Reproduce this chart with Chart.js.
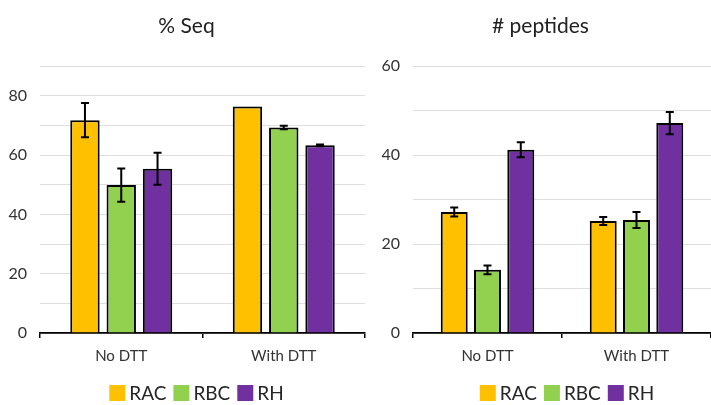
<!DOCTYPE html>
<html>
<head>
<meta charset="utf-8">
<script src="https://cdn.jsdelivr.net/npm/chart.js@4.4.1/dist/chart.umd.min.js"></script>
<style>
    html, body { margin: 0; padding: 0; background: #fff; overflow: hidden; width: 711px; height: 405px; }
    .panel { position: absolute; top: 0; }
</style>
</head>
<body>
<div class="panel" style="left:0px;"><canvas id="seq-chart" width="370" height="405"></canvas></div>
<div class="panel" style="left:370px;"><canvas id="pep-chart" width="341" height="405"></canvas></div>
<script>
// Data
const categories = ['No DTT', 'With DTT'];
const seriesNames = ['RAC', 'RBC', 'RH'];
const seriesColors = ['#FFC000', '#92D050', '#7030A0'];

const seqRAC = [71.8, 76.4];
const seqRBC = [49.9, 69.3];
const seqRH = [55.4, 63.3];
const seqRACErr = [5.8, 0];
const seqRBCErr = [5.6, 0.6];
const seqRHErr = [5.4, 0.3];

const pepRAC = [27.2, 25.2];
const pepRBC = [14.2, 25.4];
const pepRH = [41.2, 47.2];
const pepRACErr = [1.0, 0.9];
const pepRBCErr = [1.0, 1.8];
const pepRHErr = [1.7, 2.5];

const FONT = 'Lato, "Open Sans", sans-serif';

// error bars drawn on top of each bar
const errorBars = {
    id: 'errorBars',
    afterDatasetsDraw(chart) {
        const ctx = chart.ctx;
        const yScale = chart.scales.y;
        chart.data.datasets.forEach((ds, di) => {
            const meta = chart.getDatasetMeta(di);
            meta.data.forEach((bar, i) => {
                const err = ds.errors[i];
                if (!err) return;
                const v = ds.data[i];
                const yTop = yScale.getPixelForValue(v + err);
                const yBot = yScale.getPixelForValue(v - err);
                ctx.save();
                ctx.strokeStyle = '#000';
                ctx.lineWidth = 2;
                ctx.beginPath();
                ctx.moveTo(bar.x, yTop); ctx.lineTo(bar.x, yBot);
                ctx.moveTo(bar.x - 4, yTop); ctx.lineTo(bar.x + 4, yTop);
                ctx.moveTo(bar.x - 4, yBot); ctx.lineTo(bar.x + 4, yBot);
                ctx.stroke();
                ctx.restore();
            });
        });
    }
};

// compact Excel-like legend (tight gap between swatch and text)
const tightLegend = {
    id: 'tightLegend',
    afterDraw(chart, args, opts) {
        const ctx = chart.ctx;
        ctx.save();
        ctx.font = '19px ' + FONT;
        ctx.textBaseline = 'middle';
        const box = 16, gap = 4, spacing = 7;
        const widths = seriesNames.map(n => ctx.measureText(n).width);
        const total = widths.reduce((a, w) => a + box + gap + w, 0) + spacing * (seriesNames.length - 1);
        const area = chart.chartArea;
        let x = (area.left + area.right) / 2 + opts.shift - total / 2;
        const yc = opts.y;
        seriesNames.forEach((name, k) => {
            ctx.fillStyle = seriesColors[k];
            ctx.fillRect(x, yc - box / 2, box, box);
            x += box + gap;
            ctx.fillStyle = '#262626';
            ctx.fillText(name, x, yc + 1);
            x += widths[k] + spacing;
        });
        ctx.restore();
    }
};

function makeChart(id, title, yMax, values, errors, yWidth, padLeft, padRight, legendShift) {
    const ctx = document.getElementById(id).getContext('2d');
    return new Chart(ctx, {
        type: 'bar',
        data: {
            labels: categories,
            datasets: seriesNames.map((name, k) => ({
                label: name,
                data: values[k],
                errors: errors[k],
                backgroundColor: seriesColors[k],
                borderColor: '#000',
                borderWidth: 2,
                categoryPercentage: 0.67,
                barPercentage: 0.81
            }))
        },
        options: {
            responsive: false,
            animation: false,
            layout: { padding: { left: padLeft, right: padRight, top: 0, bottom: 28 } },
            scales: {
                x: {
                    grid: { display: true, drawOnChartArea: false, offset: true, tickLength: 5, color: '#000', lineWidth: 1.5 },
                    border: { display: true, color: '#000', width: 1.8 },
                    ticks: { color: '#333', font: { family: FONT, size: 15 }, padding: 9 },
                    afterFit: s => { s.height = 44; }
                },
                y: {
                    min: 0,
                    max: yMax,
                    grid: { color: '#dedede', lineWidth: 1, drawTicks: false },
                    border: { display: false },
                    ticks: {
                        stepSize: 10,
                        padding: 13,
                        color: '#333',
                        font: { family: FONT, size: 16 },
                        callback: v => (v % 20 === 0 ? v : '')
                    },
                    afterFit: s => { s.width = yWidth; }
                }
            },
            plugins: {
                title: {
                    display: true,
                    text: title,
                    color: '#222',
                    font: { family: FONT, size: 21, weight: 'normal' },
                    padding: { top: 14, bottom: 27 }
                },
                legend: { display: false },
                tooltip: { enabled: false },
                tightLegend: { y: 393, shift: legendShift }
            }
        },
        plugins: [errorBars, tightLegend]
    });
}

makeChart('seq-chart', '% Seq', 90,
    [seqRAC, seqRBC, seqRH], [seqRACErr, seqRBCErr, seqRHErr], 32, 8, 5, -6);
makeChart('pep-chart', '# peptides', 60,
    [pepRAC, pepRBC, pepRH], [pepRACErr, pepRBCErr, pepRHErr], 43, 0, 0, 5);
</script>
</body>
</html>
